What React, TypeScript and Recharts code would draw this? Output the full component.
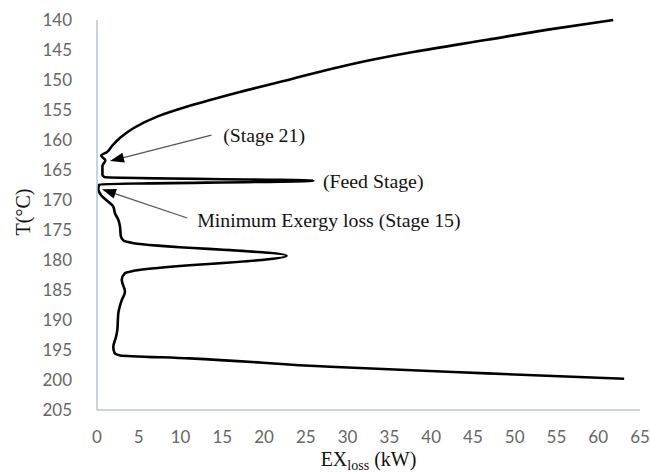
import React from 'react';
import { LineChart, Line, XAxis, YAxis, ReferenceLine, ReferenceDot, Label } from 'recharts';

// Exergy loss profile along the column, ordered from top stage (140 °C) to bottom (200 °C)
const exLoss = [
  61.8, 54.0, 46.7, 38.0, 30.3, 23.1, 17.1, 11.1, 7.2, 4.4, 2.8, 1.8, 1.2, 0.5,
  1.0, 0.65, 0.65, 0.9, 25.9, 0.3, 0.15, 0.5, 1.35, 1.95, 2.15, 2.55, 2.75, 2.85,
  3.2, 4.4, 22.7, 4.4, 3.35, 2.96, 3.35, 2.96, 2.55, 2.43, 2.28, 1.95, 2.1, 2.8,
  11.1, 27.9, 46.7, 63.1,
];
const temperature = [
  140.0, 141.6, 143.3, 145.3, 147.4, 149.9, 152.0, 154.3, 156.1, 158.0, 159.6, 161.0, 162.0, 162.6,
  163.4, 164.3, 165.8, 166.2, 166.8, 167.4, 168.2, 169.2, 170.3, 171.1, 172.2, 173.3, 174.4, 176.0,
  176.8, 177.2, 179.3, 181.8, 182.2, 183.3, 185.3, 186.7, 188.9, 191.7, 192.8, 194.5, 195.5, 195.9,
  196.4, 197.8, 198.9, 199.8,
];

const xTicks = [0, 5, 10, 15, 20, 25, 30, 35, 40, 45, 50, 55, 60, 65];
const yTicks = [140, 145, 150, 155, 160, 165, 170, 175, 180, 185, 190, 195, 200, 205];

// Callout texts and where they sit (EX, T)
const noteText = ['(Stage 21)', '(Feed Stage)', 'Minimum Exergy loss (Stage 15)'];
const noteEx = [15.1, 27.05, 12.0];
const noteT = [160.3, 168.0, 174.5];

// Pointer arrows: tail (EX, T) -> head (EX, T)
const arrowFromEx = [13.7, 10.8];
const arrowFromT = [159.2, 173.0];
const arrowToEx = [1.56, 0.6];
const arrowToT = [163.5, 168.2];

const profile = exLoss.map((ex, i) => ({ ex, t: temperature[i] }));

const AXIS_COLOR = '#bac4d4';
const TICK_FONT = { fontFamily: 'Lato, "Open Sans", sans-serif', fontSize: 17, fill: '#666666' };
const SERIF = '"Liberation Serif", "DejaVu Serif", serif';

const ArrowShape = (p: any) => {
  const { x1, y1, x2, y2 } = p;
  const dx = x2 - x1;
  const dy = y2 - y1;
  const len = Math.hypot(dx, dy) || 1;
  const ux = dx / len;
  const uy = dy / len;
  const hl = 14;
  const hw = 5;
  const bx = x2 - ux * hl;
  const by = y2 - uy * hl;
  const pts = `${x2},${y2} ${bx - uy * hw},${by + ux * hw} ${bx + uy * hw},${by - ux * hw}`;
  return (
    <g>
      <line x1={x1} y1={y1} x2={bx + ux * 2} y2={by + uy * 2} stroke="#555555" strokeWidth={1.3} />
      <polygon points={pts} fill="#000000" />
    </g>
  );
};

const makeNote = (text: string) => (p: any) => (
  <text x={p.cx} y={p.cy} fontFamily={SERIF} fontSize={19.8} fill="#111111">
    {text}
  </text>
);

const XTitle = (p: any) => {
  const vb = p.viewBox || { x: 97, y: 410, width: 543, height: 63 };
  return (
    <text
      x={vb.x + vb.width / 2}
      y={vb.y + 56}
      textAnchor="middle"
      fontFamily={SERIF}
      fontSize={20}
      fill="#111111"
    >
      EX
      <tspan fontSize={14} dy={4}>loss</tspan>
      <tspan dy={-4}> (kW)</tspan>
    </text>
  );
};

const YTitle = () => {
  const cx = 30;
  const cy = 212;
  return (
    <text
      x={cx}
      y={cy}
      transform={`rotate(-90, ${cx}, ${cy})`}
      textAnchor="middle"
      fontFamily={SERIF}
      fontSize={20}
      fill="#111111"
    >
      T(°C)
    </text>
  );
};

export default function App() {
  return (
    <div style={{ position: 'absolute', left: 0, top: 0, width: 650, height: 473, background: '#ffffff' }}>
      <LineChart width={650} height={473} data={profile} margin={{ top: 20, right: 10, bottom: 0, left: 0 }}>
        <XAxis
          dataKey="ex"
          type="number"
          domain={[0, 65]}
          ticks={xTicks}
          interval={0}
          height={63}
          tickLine={false}
          tickSize={0}
          tickMargin={21}
          axisLine={{ stroke: AXIS_COLOR, strokeWidth: 1.5 }}
          tick={TICK_FONT}
        >
          <Label content={XTitle} />
        </XAxis>
        <YAxis
          type="number"
          reversed
          domain={[140, 205]}
          ticks={yTicks}
          interval={0}
          width={97}
          tickLine={false}
          tickSize={0}
          tickMargin={25}
          axisLine={{ stroke: AXIS_COLOR, strokeWidth: 1.5 }}
          tick={TICK_FONT}
        >
          <Label content={YTitle} />
        </YAxis>
        <Line
          dataKey="t"
          type="monotoneY"
          stroke="#000000"
          strokeWidth={2.6}
          dot={false}
          activeDot={false}
          isAnimationActive={false}
        />
        {arrowFromEx.map((fx, i) => (
          <ReferenceLine
            key={`arrow-${i}`}
            segment={[
              { x: fx, y: arrowFromT[i] },
              { x: arrowToEx[i], y: arrowToT[i] },
            ]}
            shape={ArrowShape}
          />
        ))}
        {noteText.map((txt, i) => (
          <ReferenceDot key={`note-${i}`} x={noteEx[i]} y={noteT[i]} r={0} shape={makeNote(txt)} />
        ))}
      </LineChart>
    </div>
  );
}
